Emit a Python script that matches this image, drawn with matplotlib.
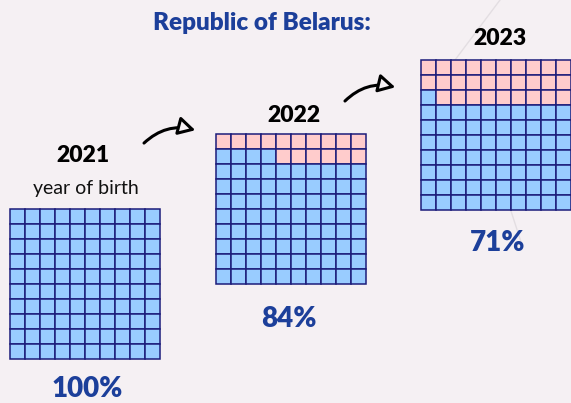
import matplotlib.pyplot as plt
from matplotlib.patches import Rectangle, FancyArrowPatch

# data
years = ["2021", "2022", "2023"]
shares = [100, 84, 71]          # % of cohort remaining (blue cells)
pct_labels = ["100%", "84%", "71%"]
subtitle = "year of birth"
title = "Republic of Belarus:"

# layout (pixel coordinates, y down)
grid_left = [10, 216, 421]
grid_top = [209, 134, 60]
cell = 15
year_x = [83, 294, 500]
year_base = [162, 122, 45]
pct_x = [87, 289, 498]
pct_base = [397, 327, 251]

blue = "#99ccff"
pink = "#ffcccc"
edge = "#1c1c7a"
text_blue = "#1c3f9a"
bg = "#f5f0f3"

plt.rcParams['font.family'] = ['Lato', 'DejaVu Sans']

fig = plt.figure(figsize=(5.71, 4.03), dpi=100)
fig.patch.set_facecolor(bg)
ax = fig.add_axes([0, 0, 1, 1])
ax.set_xlim(0, 571)
ax.set_ylim(403, 0)
ax.axis("off")

# faint background lines
ax.plot([455, 500], [60, 0], color="#e3dee2", lw=1, zorder=0)
ax.plot([510, 522], [208, 245], color="#e3dee2", lw=1, zorder=0)


def draw_waffle(x0, y0, share):
    n_pink = 100 - share
    for r in range(10):
        for c in range(10):
            # pink fills from the top row, right-aligned
            idx = r * 10 + (9 - c)
            color = pink if idx < n_pink else blue
            ax.add_patch(Rectangle((x0 + c * cell, y0 + r * cell), cell, cell,
                                   facecolor=color, edgecolor=edge, lw=1.1, zorder=2))


for i in range(3):
    draw_waffle(grid_left[i], grid_top[i], shares[i])
    ax.text(year_x[i], year_base[i], years[i], ha="center", va="baseline",
            fontsize=16.5, fontweight="heavy", color="black")
    ax.text(pct_x[i], pct_base[i], pct_labels[i], ha="center", va="baseline",
            fontsize=20, fontweight="heavy", color=text_blue)

ax.text(86, 194, subtitle, ha="center", va="baseline", fontsize=14, color="#111111")
ax.text(262, 30, title, ha="center", va="baseline", fontsize=17.5,
        fontweight="heavy", color=text_blue)

# curved arrows between years, open heads
for (x1, y1, x2, y2) in [(142, 145, 198, 131), (343, 103, 398, 88)]:
    ax.add_patch(FancyArrowPatch((x1, y1), (x2, y2), connectionstyle="arc3,rad=-0.3",
                                 arrowstyle="-|>,head_length=10,head_width=5.5",
                                 facecolor=bg, edgecolor="black", lw=2.2, zorder=3))

fig.savefig("out.png", dpi=100, facecolor=fig.get_facecolor())
